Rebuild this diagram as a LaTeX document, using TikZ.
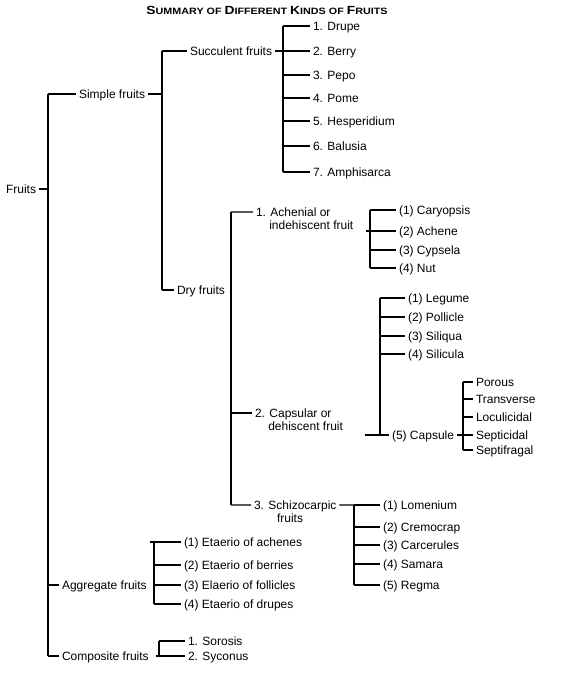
\documentclass[tikz,border=0pt]{standalone}
\usepackage{fontspec}
\setmainfont{Liberation Sans}
\usetikzlibrary{calc}
\newcommand\lblfont{\fontsize{12bp}{13bp}\selectfont}
\newcommand\tbig[1]{{\fontsize{11.8bp}{13bp}\selectfont #1}}
\newcommand\tsm[1]{{\fontsize{9.2bp}{13bp}\selectfont #1}}
\tikzset{
  lbl/.style={font=\lblfont, inner xsep=3bp, inner ysep=0pt, outer sep=0pt,
              text height=8.6bp, text depth=0pt, anchor=west},
  lbltwo/.style={font=\lblfont, inner xsep=3bp, inner ysep=0pt, outer sep=0pt,
              anchor=base west},
  ln/.style={line width=1.1bp, black},
}
\begin{document}
\begin{tikzpicture}[x=1bp, y=-1bp]
\useasboundingbox (0,0) rectangle (564,682);
% title
\node[inner sep=0pt] (title) at (267,10) {\scalebox{1.17}[1]{\bfseries\tbig{S}\tsm{UMMARY OF }\tbig{D}\tsm{IFFERENT }\tbig{K}\tsm{INDS OF }\tbig{F}\tsm{RUITS}}};
% bar coordinates
\coordinate (b0t) at (48,94);   \coordinate (b0b) at (48,656);
\coordinate (b1t) at (162,51);  \coordinate (b1b) at (162,290);
\coordinate (b2t) at (283,26);  \coordinate (b2b) at (283,172);
\coordinate (b3t) at (231,212); \coordinate (b3b) at (231,505);
\coordinate (b4t) at (370,210); \coordinate (b4b) at (370,268);
\coordinate (b5t) at (380,298); \coordinate (b5b) at (380,435);
\coordinate (b6t) at (463,382); \coordinate (b6b) at (463,450);
\coordinate (b7t) at (354,505); \coordinate (b7b) at (354,585);
\coordinate (b8t) at (154,542); \coordinate (b8b) at (154,604);
\coordinate (b9t) at (159,641); \coordinate (b9b) at (159,656);
% nodes
\node[lbl] (fruits) at (3,189) {Fruits};
\node[lbl] (simple) at (76,94) {Simple fruits};
\node[lbl] (succ) at (187,51) {Succulent fruits};
\node[lbl] (drupe) at (310,26) {1. Drupe};
\node[lbl] (berry) at (310,51) {2. Berry};
\node[lbl] (pepo) at (310,75) {3. Pepo};
\node[lbl] (pome) at (310,98) {4. Pome};
\node[lbl] (hesp) at (310,121) {5. Hesperidium};
\node[lbl] (balusia) at (310,146) {6. Balusia};
\node[lbl] (amphi) at (310,172) {7. Amphisarca};
\node[lbl] (dry) at (174,290) {Dry fruits};
\node[lbltwo] (ach) at (253,216.3) {\begin{tabular}[t]{@{}l@{}}1. Achenial or\\\hspace*{13.3bp}indehiscent fruit\end{tabular}};
\node[lbl] (caryo) at (396,210) {(1) Caryopsis};
\node[lbl] (achene) at (396,231) {(2) Achene};
\node[lbl] (cypsela) at (396,250) {(3) Cypsela};
\node[lbl] (nut) at (396,268) {(4) Nut};
\node[lbltwo] (capsular) at (252,417.3) {\begin{tabular}[t]{@{}l@{}}2. Capsular or\\\hspace*{13.3bp}dehiscent fruit\end{tabular}};
\node[lbl] (legume) at (405,298) {(1) Legume};
\node[lbl] (pollicle) at (405,317) {(2) Pollicle};
\node[lbl] (siliqua) at (405,336) {(3) Siliqua};
\node[lbl] (silicula) at (405,354) {(4) Silicula};
\node[lbl] (capsule) at (389,435) {(5) Capsule};
\node[lbl] (porous) at (473,382) {Porous};
\node[lbl] (transverse) at (473,399) {Transverse};
\node[lbl] (loculi) at (473,417) {Loculicidal};
\node[lbl] (septici) at (473,435) {Septicidal};
\node[lbl] (septifr) at (473,450) {Septifragal};
\node[lbltwo] (schizo) at (251,509.3) {\begin{tabular}[t]{@{}l@{}}3. Schizocarpic\\\hspace*{23bp}fruits\end{tabular}};
\node[lbl] (lomenium) at (380,505) {(1) Lomenium};
\node[lbl] (cremocrap) at (380,527) {(2) Cremocrap};
\node[lbl] (carcerules) at (380,545) {(3) Carcerules};
\node[lbl] (samara) at (380,564) {(4) Samara};
\node[lbl] (regma) at (380,585) {(5) Regma};
\node[lbl] (aggregate) at (59,585) {Aggregate fruits};
\node[lbl] (etA) at (181,542) {(1) Etaerio of achenes};
\node[lbl] (etB) at (181,565) {(2) Etaerio of berries};
\node[lbl] (etC) at (181,585) {(3) Elaerio of follicles};
\node[lbl] (etD) at (181,604) {(4) Etaerio of drupes};
\node[lbl] (composite) at (59,656) {Composite fruits};
\node[lbl] (sorosis) at (185,641) {1. Sorosis};
\node[lbl] (syconus) at (185,656) {2. Syconus};
% anchor points of two-line nodes
\coordinate (ach1) at ([yshift=4.3bp]ach.base west);
\coordinate (cap1) at ([yshift=4.3bp]capsular.base west);
\coordinate (sch1) at ([yshift=4.3bp]schizo.base west);
\coordinate (sch2) at ([yshift=4.3bp]schizo.base east);
% bars
\foreach \i in {0,...,9} \draw[ln] (b\i t) -- (b\i b);
% level 1
\draw[ln] (fruits.east) -- (b0t |- fruits.east);
\draw[ln] (b0t) -- (simple.west);
\draw[ln] (b0t |- aggregate.west) -- (aggregate.west);
\draw[ln] (b0b) -- (composite.west);
% simple
\draw[ln] (simple.east) -- (b1t |- simple.east);
\draw[ln] (b1t) -- (succ.west);
\draw[ln] (b1b) -- (dry.west);
% succulent
\draw[ln] (succ.east) -- (b2t |- succ.east);
\foreach \n in {drupe,berry,pepo,pome,hesp,balusia,amphi}
  \draw[ln] (b2t |- \n.west) -- (\n.west);
% dry
\draw[ln] (b3t) -- (ach1);
\draw[ln] (b3t |- cap1) -- (cap1);
\draw[ln] (b3b) -- (sch1);
% achenial
\draw[ln] ($(b4t |- achene.west)+(-4,0)$) -- (achene.west);
\foreach \n in {caryo,cypsela,nut}
  \draw[ln] (b4t |- \n.west) -- (\n.west);
% capsular
\draw[ln] ($(b5b)+(-15,0)$) -- (capsule.west);
\foreach \n in {legume,pollicle,siliqua,silicula}
  \draw[ln] (b5t |- \n.west) -- (\n.west);
\draw[ln] (capsule.east) -- (b6t |- capsule.east);
\foreach \n in {porous,transverse,loculi,septici,septifr}
  \draw[ln] (b6t |- \n.west) -- (\n.west);
% schizocarpic
\draw[ln] (sch2) -- (b7t);
\foreach \n in {lomenium,cremocrap,carcerules,samara,regma}
  \draw[ln] (b7t |- \n.west) -- (\n.west);
% aggregate
\draw[ln] ($(b8t)+(-4,0)$) -- (etA.west);
\foreach \n in {etB,etC,etD}
  \draw[ln] (b8t |- \n.west) -- (\n.west);
% composite
\draw[ln] (b9t) -- (sorosis.west);
\draw[ln] ($(b9b)+(-3,0)$) -- (syconus.west);
\end{tikzpicture}
\end{document}
